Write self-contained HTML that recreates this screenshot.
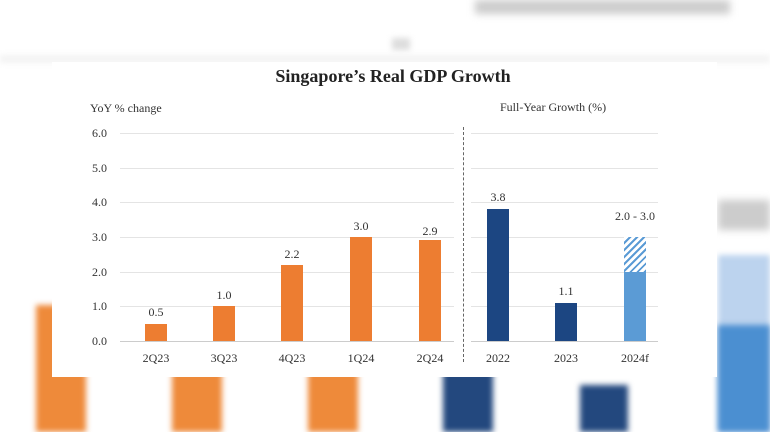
<!DOCTYPE html>
<html><head><style>
body{margin:0;width:770px;height:432px;overflow:hidden;background:#fff;position:relative;font-family:"Liberation Serif",serif;}
.a{position:absolute}
.t{position:absolute;font-size:12px;color:#333;transform:translateX(-50%);white-space:nowrap}
.g{position:absolute;height:1px;background:#e4e4e4}
</style></head><body>
<div class="a" style="left:475px;top:0;width:255px;height:14px;background:#ccc;filter:blur(4px)"></div>
<div class="a" style="left:392px;top:38px;width:18px;height:12px;background:#ddd;filter:blur(3px)"></div>
<div class="a" style="left:0;top:55px;width:770px;height:8px;background:#f3f3f3;filter:blur(3px)"></div>
<div class="a" style="left:36px;top:305px;width:50px;height:127px;background:#ee8a3a;filter:blur(3px)"></div>
<div class="a" style="left:172px;top:370px;width:50px;height:62px;background:#ee8a3a;filter:blur(3px)"></div>
<div class="a" style="left:308px;top:370px;width:50px;height:62px;background:#ee8a3a;filter:blur(3px)"></div>
<div class="a" style="left:443px;top:370px;width:50px;height:62px;background:#23487e;filter:blur(3px)"></div>
<div class="a" style="left:580px;top:385px;width:48px;height:47px;background:#23487e;filter:blur(3px)"></div>
<div class="a" style="left:718px;top:255px;width:52px;height:177px;background:#bcd3ee;filter:blur(3px)"></div>
<div class="a" style="left:718px;top:325px;width:52px;height:107px;background:#4b8fd1;filter:blur(3px)"></div>
<div class="a" style="left:718px;top:200px;width:52px;height:30px;background:#ccc;filter:blur(4px)"></div>
<div class="a" style="left:52px;top:62px;width:665px;height:315px;background:#fff"></div>
<div class="a" style="left:0;top:66px;width:770px;text-align:center;font-weight:bold;font-size:18px;color:#222;padding-left:16px;box-sizing:border-box">Singapore’s Real GDP Growth</div>
<div class="a" style="left:90px;top:101px;font-size:12px;color:#333">YoY % change</div>
<div class="a" style="left:500px;top:100px;font-size:12px;color:#333">Full-Year Growth (%)</div>
<div class="g" style="left:120px;width:334px;top:133px"></div>
<div class="g" style="left:120px;width:334px;top:168px"></div>
<div class="g" style="left:120px;width:334px;top:202px"></div>
<div class="g" style="left:120px;width:334px;top:237px"></div>
<div class="g" style="left:120px;width:334px;top:272px"></div>
<div class="g" style="left:120px;width:334px;top:306px"></div>
<div class="g" style="left:120px;width:334px;top:341px;background:#ccc"></div>
<div class="g" style="left:471px;width:187px;top:133px"></div>
<div class="g" style="left:471px;width:187px;top:168px"></div>
<div class="g" style="left:471px;width:187px;top:202px"></div>
<div class="g" style="left:471px;width:187px;top:237px"></div>
<div class="g" style="left:471px;width:187px;top:272px"></div>
<div class="g" style="left:471px;width:187px;top:306px"></div>
<div class="g" style="left:471px;width:187px;top:341px;background:#ccc"></div>
<div class="a" style="left:463px;top:127px;height:235px;border-left:1px dashed #666"></div>
<div class="a" style="left:92px;top:126px;font-size:12px;color:#333;line-height:14px">6.0</div>
<div class="a" style="left:92px;top:161px;font-size:12px;color:#333;line-height:14px">5.0</div>
<div class="a" style="left:92px;top:195px;font-size:12px;color:#333;line-height:14px">4.0</div>
<div class="a" style="left:92px;top:230px;font-size:12px;color:#333;line-height:14px">3.0</div>
<div class="a" style="left:92px;top:265px;font-size:12px;color:#333;line-height:14px">2.0</div>
<div class="a" style="left:92px;top:299px;font-size:12px;color:#333;line-height:14px">1.0</div>
<div class="a" style="left:92px;top:334px;font-size:12px;color:#333;line-height:14px">0.0</div>
<div class="a" style="left:145px;top:324px;width:22px;height:17px;background:#ed7d31"></div>
<div class="a" style="left:213px;top:306px;width:22px;height:35px;background:#ed7d31"></div>
<div class="a" style="left:281px;top:265px;width:22px;height:76px;background:#ed7d31"></div>
<div class="a" style="left:350px;top:237px;width:22px;height:104px;background:#ed7d31"></div>
<div class="a" style="left:419px;top:240px;width:22px;height:101px;background:#ed7d31"></div>
<div class="a" style="left:487px;top:209px;width:22px;height:132px;background:#1c4682"></div>
<div class="a" style="left:555px;top:303px;width:22px;height:38px;background:#1c4682"></div>
<div class="a" style="left:624px;top:272px;width:22px;height:69px;background:#5b9bd5"></div>
<div class="a" style="left:624px;top:237px;width:22px;height:35px;background:repeating-linear-gradient(-45deg,#5b9bd5 0 2px,#fff 2px 5px)"></div>
<div class="t" style="left:156px;top:305px">0.5</div>
<div class="t" style="left:224px;top:288px">1.0</div>
<div class="t" style="left:292px;top:247px">2.2</div>
<div class="t" style="left:361px;top:219px">3.0</div>
<div class="t" style="left:430px;top:224px">2.9</div>
<div class="t" style="left:498px;top:190px">3.8</div>
<div class="t" style="left:566px;top:284px">1.1</div>
<div class="t" style="left:635px;top:209px">2.0 - 3.0</div>
<div class="t" style="left:156px;top:351px">2Q23</div>
<div class="t" style="left:224px;top:351px">3Q23</div>
<div class="t" style="left:292px;top:351px">4Q23</div>
<div class="t" style="left:361px;top:351px">1Q24</div>
<div class="t" style="left:430px;top:351px">2Q24</div>
<div class="t" style="left:498px;top:351px">2022</div>
<div class="t" style="left:566px;top:351px">2023</div>
<div class="t" style="left:635px;top:351px">2024f</div>
</body></html>
